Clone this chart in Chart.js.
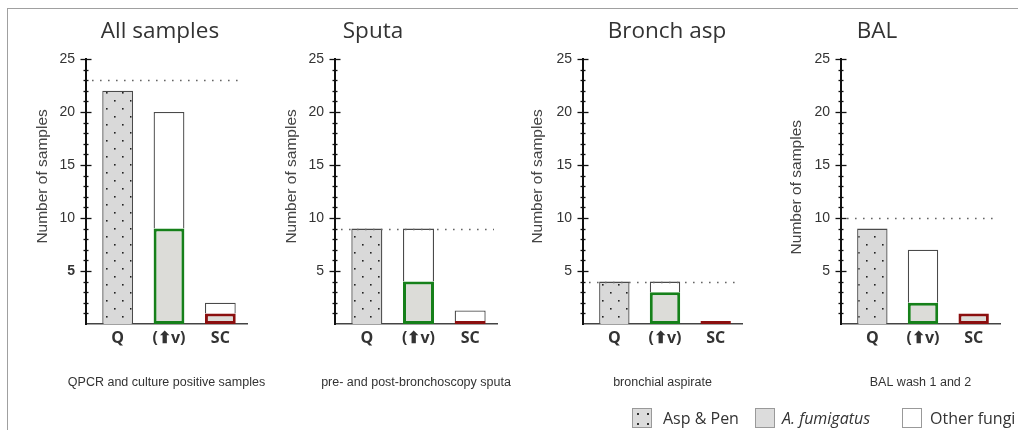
<!DOCTYPE html>
<html>
<head>
<meta charset="utf-8">
<script src="https://cdn.jsdelivr.net/npm/chart.js@4.4.0/dist/chart.umd.min.js"></script>
<style>
  body { margin: 0; background: #fff; width: 1018px; height: 430px; overflow: hidden; position: relative; font-family: "Open Sans", sans-serif; color: #333; }
  #frame { position: absolute; left: 7px; top: 8px; width: 1100px; height: 500px; border-left: 1px solid #a0a0a0; border-top: 1px solid #a0a0a0; }
  .panel { position: absolute; top: 0; height: 400px; }
  .heading { position: absolute; top: 16px; font-size: 22.5px; line-height: 28px; color: #333; transform: translateX(-50%); white-space: nowrap; }
  .key { position: absolute; top: 408px; width: 20px; height: 20px; border: 1px solid #999; box-sizing: border-box; background: #dcdcdc; }
  .key.other { background: #fff; }
  .key.dots { background-color: #dcdcdc; background-image: radial-gradient(circle, #333 0.9px, transparent 1.3px); background-size: 10px 10px; background-position: 0 0; }
  .keytext { position: absolute; top: 407px; font-size: 16px; line-height: 22px; color: #333; white-space: nowrap; }
</style>
</head>
<body>
<div id="frame"></div>
<div id="charts"></div>
<span class="key dots" style="left:632px"></span><span class="keytext" style="left:663px">Asp &amp; Pen</span>
<span class="key" style="left:755px"></span><span class="keytext" style="left:782px"><i>A. fumigatus</i></span>
<span class="key other" style="left:902px"></span><span class="keytext" style="left:930px">Other fungi</span>
<script>
const categories = ['Q', '(\u2B06v)', 'SC'];
const panelTitles = ['All samples', 'Sputa', 'Bronch asp', 'BAL'];
const captions = ['QPCR and culture positive samples', 'pre- and post-bronchoscopy sputa', 'bronchial aspirate', 'BAL wash 1 and 2'];

// Q column
const aspPen = [22, 9, 4, 9];
// A. fumigatus part of the (up v) and SC columns
const fumigatusV = [9, 4, 3, 2];
const fumigatusSC = [1, 0, 0, 1];
// all fungi (A. fumigatus + other) in the (up v) and SC columns
const allFungiV = [20, 9, 4, 7];
const allFungiSC = [2, 1, 0, 1];
// number of samples in each group (dotted line)
const sampleTotals = [23, 9, 4, 10];
const yMax = 25;

// page placement of each panel; lift = leading spaces that nudge the axis title up
const panelBox = [
  { left: 14, axis: 86, right: 247, yTitle: 43, heading: 160, lift: 7 },
  { left: 262, axis: 335, right: 497, yTitle: 292, heading: 373, lift: 7 },
  { left: 510, axis: 583, right: 742, yTitle: 538, heading: 667, lift: 7 },
  { left: 766, axis: 841, right: 1000, yTitle: 797, heading: 877, lift: 2 },
];
const chartTop = 59, chartBottom = 324, canvasH = 400;

Chart.defaults.font.family = '"Liberation Sans", Arial, sans-serif';
Chart.defaults.color = '#333';

// dotted fill for the Asp & Pen bars
function dotPattern() {
  const c = document.createElement('canvas');
  c.width = 16; c.height = 16;
  const g = c.getContext('2d');
  g.fillStyle = '#d9d9d9';
  g.fillRect(0, 0, 16, 16);
  g.fillStyle = '#222';
  g.fillRect(4, 4, 1.6, 1.6);
  g.fillRect(12, 12, 1.6, 1.6);
  return g.createPattern(c, 'repeat');
}
const dots = dotPattern();

// leave a small gap between the y axis and the first category
const categoryInset = {
  id: 'categoryInset',
  afterLayout(chart) {
    const x = chart.scales.x;
    x._startPixel = x.left + 6;
    x._endPixel = x.right - 1;
    x._length = x._endPixel - x._startPixel;
  }
};

// small crosses along the y axis, longer on every fifth
const axisCross = {
  id: 'axisCross',
  afterDraw(chart) {
    const y = chart.scales.y, ctx = chart.ctx, x0 = chart.chartArea.left;
    ctx.save();
    ctx.strokeStyle = '#111';
    ctx.lineWidth = 1.3;
    y.ticks.forEach(t => {
      if (!t.value) return;
      const py = Math.round(y.getPixelForValue(t.value)) + 0.5;
      const w = t.value % 5 ? 2.5 : 5.5;
      ctx.beginPath();
      ctx.moveTo(x0 - w, py);
      ctx.lineTo(x0 + w, py);
      ctx.stroke();
    });
    ctx.restore();
  }
};

// dotted line at the group's sample count
const totalLine = {
  id: 'totalLine',
  afterDatasetsDraw(chart, args, opts) {
    const { ctx, chartArea } = chart;
    const py = Math.round(chart.scales.y.getPixelForValue(opts.value)) + 0.5;
    ctx.save();
    ctx.strokeStyle = '#666';
    ctx.lineWidth = 1.6;
    ctx.setLineDash([1.6, 6.4]);
    ctx.beginPath();
    ctx.moveTo(chartArea.left + 6, py);
    ctx.lineTo(chartArea.right - 3, py);
    ctx.stroke();
    ctx.restore();
  }
};

// caption under the category labels, allowed to run wider than the axis
const caption = {
  id: 'caption',
  afterDraw(chart, args, opts) {
    const x = chart.scales.x, ctx = chart.ctx;
    ctx.save();
    ctx.font = '12.5px "Liberation Sans", Arial, sans-serif';
    ctx.fillStyle = '#333';
    ctx.textAlign = 'center';
    ctx.textBaseline = 'middle';
    ctx.fillText(opts.text, (x.left + x.right) / 2, x.bottom - 17);
    ctx.restore();
  }
};

const holder = document.getElementById('charts');

panelTitles.forEach((title, i) => {
  const box = panelBox[i];
  const padRight = 24;

  const h = document.createElement('div');
  h.className = 'heading';
  h.style.left = box.heading + 'px';
  h.textContent = title;
  document.body.appendChild(h);

  const wrap = document.createElement('div');
  wrap.className = 'panel';
  wrap.style.left = box.left + 'px';
  wrap.style.width = (box.right - box.left + padRight) + 'px';
  const cv = document.createElement('canvas');
  wrap.appendChild(cv);
  holder.appendChild(wrap);

  new Chart(cv, {
    type: 'bar',
    data: {
      labels: categories,
      datasets: [
        {
          label: 'A. fumigatus',
          data: [null, fumigatusV[i], fumigatusSC[i]],
          backgroundColor: '#dcdcd8',
          borderColor: [null, '#16801a', '#8b0f0f'],
          borderWidth: 3,
          borderSkipped: false,
          minBarLength: 3
        },
        {
          label: 'Other fungi',
          data: [null, allFungiV[i] - fumigatusV[i], allFungiSC[i] - fumigatusSC[i]],
          backgroundColor: '#ffffff',
          borderColor: '#4a4a4a',
          borderWidth: 1.3
        },
        {
          label: 'Asp & Pen',
          data: [aspPen[i], null, null],
          backgroundColor: dots,
          borderColor: '#4a4a4a',
          borderWidth: 1.3
        }
      ]
    },
    options: {
      responsive: true,
      maintainAspectRatio: false,
      animation: false,
      layout: { padding: { top: chartTop, right: padRight, bottom: 0, left: 0 } },
      datasets: { bar: { barPercentage: 0.6, categoryPercentage: 1 } },
      plugins: {
        legend: { display: false },
        tooltip: { enabled: false },
        totalLine: { value: sampleTotals[i] },
        caption: { text: captions[i] }
      },
      scales: {
        x: {
          stacked: true,
          grid: { display: false, drawTicks: false },
          border: { display: true, color: '#444', width: 1.5 },
          ticks: { padding: 5, color: '#333', font: { family: '"Open Sans", sans-serif', size: 16, weight: 'bold' } },
          afterFit(scale) { scale.height = canvasH - chartBottom; }
        },
        y: {
          stacked: true,
          min: 0,
          max: yMax,
          grid: { display: false, drawTicks: false },
          border: { display: true, color: '#111', width: 2 },
          ticks: {
            stepSize: 1,
            autoSkip: false,
            padding: 11,
            color: '#333',
            font: ctx => ({ size: 14, weight: (i === 0 && ctx.tick && ctx.tick.value === 5) ? 'bold' : 'normal' }),
            callback: v => (v > 0 && v % 5 === 0) ? String(v) : ''
          },
          title: {
            display: true,
            text: '\u00a0'.repeat(box.lift) + 'Number of samples',
            color: '#444',
            font: { size: 15.5 },
            padding: { top: box.yTitle - box.left - 9.3, bottom: 0 }
          },
          afterFit(scale) { scale.width = box.axis - box.left; }
        }
      }
    },
    plugins: [categoryInset, axisCross, totalLine, caption]
  });
});
</script>
</body>
</html>
